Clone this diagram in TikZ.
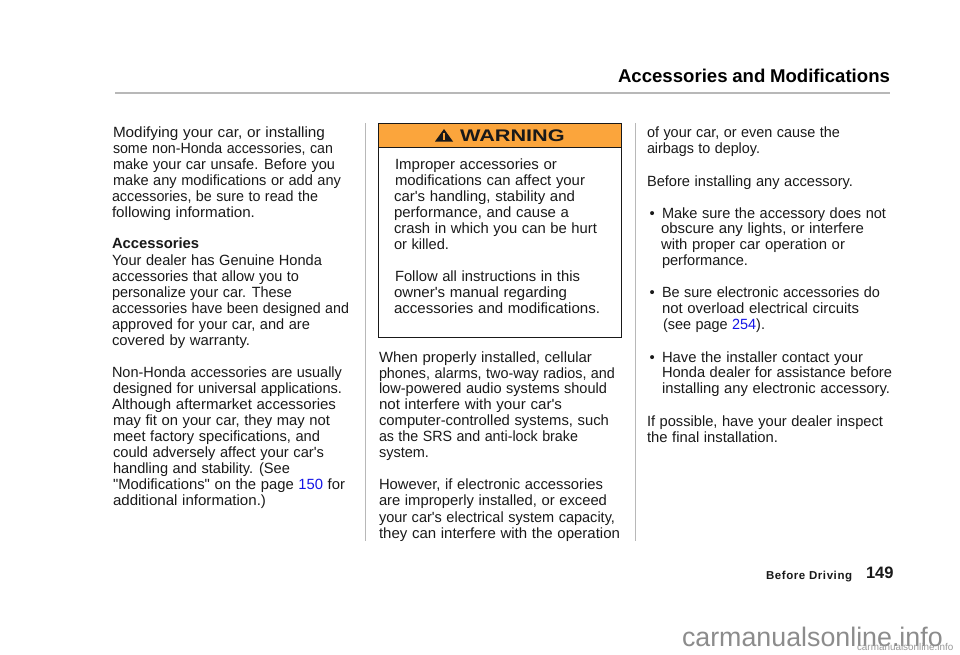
\documentclass[tikz,border=0pt]{standalone}
\usepackage{graphicx}
\usepackage{fontspec}
\setmainfont{Liberation Sans}[Ligatures=TeXOff]
\usetikzlibrary{calc}
\definecolor{warnorange}{HTML}{FBA53C}
\definecolor{linkblue}{HTML}{1414E6}
\definecolor{rulegrey}{gray}{0.72}
\definecolor{ink}{gray}{0.1}
\tikzset{
  x=1pt,y=-1pt,
  body/.style={anchor=base west,inner sep=0pt,outer sep=0pt,font=\fontsize{14.8}{16}\selectfont,text=ink},
  rulev/.style={draw=rulegrey,line width=1pt},
}
% one line of text: x start, x end, text (scaled sideways to fit the width)
\newsavebox{\linebox}
\newcommand{\fitline}[3]{\sbox{\linebox}{\spaceskip=4.6pt\relax #3}\pgfmathsetmacro{\fitratio}{(#2-#1)/\the\wd\linebox}\scalebox{\fitratio}[1]{\usebox{\linebox}}}
\newcommand{\tl}[4]{\node[body] at (#1,#2) {\fitline{#1}{#3}{#4}};}
\begin{document}
\begin{tikzpicture}
\useasboundingbox (0,0) rectangle (960,654);
% title
\node[body,font=\fontsize{18.5}{20}\selectfont\bfseries,text=black] (title) at (618,82) {\fitline{618}{890}{Accessories and Modifications}};
\draw[draw=rulegrey,line width=1.2pt] (115,93) -- (890,93);
% left column
\tl{113}{137}{325}{Modifying your car, or installing}
\tl{113}{153}{333}{some non-Honda accessories, can}
\tl{113}{169}{335}{make your car unsafe. Before you}
\tl{113}{185}{341}{make any modifications or add any}
\tl{112}{201}{318}{accessories, be sure to read the}
\tl{112}{217}{255}{following information.}
\node[body,font=\fontsize{14.8}{16}\selectfont\bfseries] at (112,248) {Accessories};
\tl{112}{265}{322}{Your dealer has Genuine Honda}
\tl{112}{281}{299}{accessories that allow you to}
\tl{112}{297}{292}{personalize your car. These}
\tl{112}{313}{349}{accessories have been designed and}
\tl{112}{329}{310}{approved for your car, and are}
\tl{112}{345}{250}{covered by warranty.}
\tl{112}{377}{342}{Non-Honda accessories are usually}
\tl{113}{393}{342}{designed for universal applications.}
\tl{112}{409}{336}{Although aftermarket accessories}
\tl{113}{425}{330}{may fit on your car, they may not}
\tl{113}{441}{320}{meet factory specifications, and}
\tl{113}{457}{324}{could adversely affect your car's}
\tl{113}{473}{290}{handling and stability. (See}
\tl{113}{489}{345}{"Modifications" on the page \textcolor{linkblue}{150} for}
\tl{113}{505}{266}{additional information.)}
% column rules
\draw[rulev] (365,123) -- (365,541);
\draw[rulev] (635,123) -- (635,541);
% warning box
\fill[warnorange] (378.5,123.5) rectangle (621,147);
\draw[draw=ink,line width=1pt] (378.5,123.5) rectangle (621,337.5);
\draw[draw=ink,line width=1pt] (378.5,147) -- (621,147);
\fill[ink] (435,141.5) -- (444,129) -- (453,141.5) -- cycle;
\fill[warnorange] (443.2,133) rectangle (444.8,137.5);
\fill[warnorange] (443.2,138.3) rectangle (444.8,140);
\node[body,font=\fontsize{16.8}{20}\selectfont\bfseries,text=ink,xscale=1.29,anchor=base west] (warn) at (460,141) {WARNING};
\tl{395}{169}{557}{Improper accessories or}
\tl{395}{185}{585}{modifications can affect your}
\tl{394}{201}{575}{car's handling, stability and}
\tl{394}{217}{569}{performance, and cause a}
\tl{394}{233}{597}{crash in which you can be hurt}
\tl{394}{249}{449}{or killed.}
\tl{395}{281}{580}{Follow all instructions in this}
\tl{394}{297}{567}{owner's manual regarding}
\tl{394}{313}{600}{accessories and modifications.}
% middle column
\tl{379}{362}{592}{When properly installed, cellular}
\tl{379}{378}{615}{phones, alarms, two-way radios, and}
\tl{379}{393}{607}{low-powered audio systems should}
\tl{379}{409}{562}{not interfere with your car's}
\tl{379}{425}{609}{computer-controlled systems, such}
\tl{379}{441}{578}{as the SRS and anti-lock brake}
\tl{379}{457}{429}{system.}
\tl{379}{489}{603}{However, if electronic accessories}
\tl{379}{505}{607}{are improperly installed, or exceed}
\tl{379}{522}{615}{your car's electrical system capacity,}
\tl{379}{538}{620}{they can interfere with the operation}
% right column
\tl{647}{137}{840}{of your car, or even cause the}
\tl{647}{153}{760}{airbags to deploy.}
\tl{647}{186}{853}{Before installing any accessory.}
\node[body] at (649.5,218) {•};
\tl{662}{218}{886}{Make sure the accessory does not}
\tl{661}{233}{864}{obscure any lights, or interfere}
\tl{661}{249}{845}{with proper car operation or}
\tl{662}{265}{748}{performance.}
\node[body] at (649.5,297) {•};
\tl{662}{297}{880}{Be sure electronic accessories do}
\tl{662}{313}{859}{not overload electrical circuits}
\tl{663}{329}{765}{(see page \textcolor{linkblue}{254}).}
\node[body] at (649.5,362) {•};
\tl{662}{362}{863}{Have the installer contact your}
\tl{662}{377}{892}{Honda dealer for assistance before}
\tl{662}{393}{890}{installing any electronic accessory.}
\tl{647}{426}{883}{If possible, have your dealer inspect}
\tl{647}{442}{778}{the final installation.}
% footer
\node[body,font=\fontsize{11.5}{13}\selectfont\bfseries\addfontfeature{LetterSpace=5},text=ink] (sec) at (766,579) {Before Driving};
\node[body,font=\fontsize{16.5}{20}\selectfont\bfseries,text=ink] (pg) at (866,578) {149};
% watermark
\node[body,font=\fontsize{26.8}{28}\selectfont,text=black!45] (wm) at (682,646) {carmanualsonline.info};
\node[body,font=\fontsize{9.9}{11}\selectfont,text=black!40] (wm2) at (857,650) {carmanualsonline.info};
\end{tikzpicture}
\end{document}
